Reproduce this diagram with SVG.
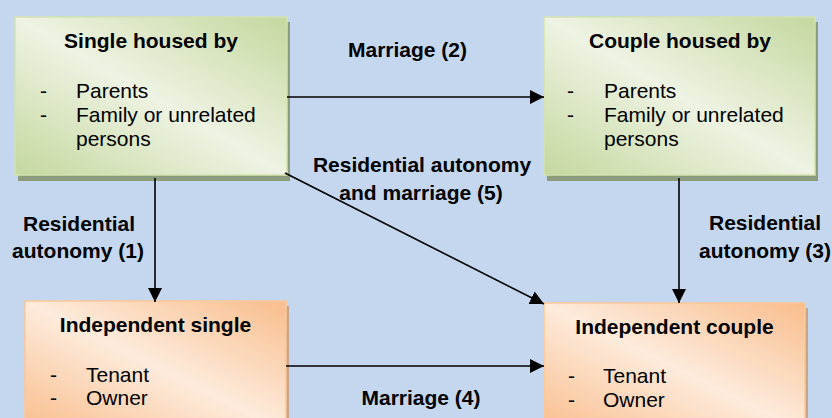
<svg xmlns="http://www.w3.org/2000/svg" width="832" height="418" viewBox="0 0 832 418">
<defs>
<linearGradient id="gGreen" x1="0" y1="1" x2="1" y2="0">
<stop offset="0" stop-color="#c4d89e"/>
<stop offset="0.5" stop-color="#eef3e3"/>
<stop offset="1" stop-color="#c4d89e"/>
</linearGradient>
<linearGradient id="gOrange" x1="0" y1="1" x2="1" y2="0">
<stop offset="0" stop-color="#f9bd8c"/>
<stop offset="0.5" stop-color="#fdebdc"/>
<stop offset="1" stop-color="#f9bd8c"/>
</linearGradient>
<marker id="arr" markerUnits="userSpaceOnUse" markerWidth="16" markerHeight="16" refX="14" refY="7" orient="auto">
<path d="M0,0 L14,7 L0,14 Z" fill="#000"/>
</marker>
</defs>
<style>
.bg{fill:#c5d7ef}
.gbox{fill:url(#gGreen);stroke:#d3e2b0;stroke-width:1.5}
.gsh{fill:#8c9c7c}
.obox{fill:url(#gOrange);stroke:#fbc896;stroke-width:1.5}
.osh{fill:#c8a48a}
text{font-family:"Liberation Sans",Arial,sans-serif;font-size:21px;fill:#000}
.t{font-weight:bold;text-anchor:middle}
.lbl{font-weight:bold;text-anchor:middle}
.c{fill:none;stroke:#000;stroke-width:1.6;marker-end:url(#arr)}
</style>
<rect class="bg" x="0" y="0" width="832" height="418"/>

<g id="single-housed">
<rect class="gsh" x="18" y="22" width="272" height="159"/>
<rect class="gbox" x="15" y="17" width="272" height="158"/>
<text class="t" x="151" y="48">Single housed by</text>
<text x="40" y="98">-</text>
<text x="76" y="98">Parents</text>
<text x="40" y="122">-</text>
<text x="76" y="122">Family or unrelated</text>
<text x="76" y="146">persons</text>
</g>

<g id="couple-housed">
<rect class="gsh" x="547" y="22" width="271" height="159"/>
<rect class="gbox" x="544" y="17" width="271" height="158"/>
<text class="t" x="680" y="48">Couple housed by</text>
<text x="567" y="98">-</text>
<text x="604" y="98">Parents</text>
<text x="567" y="122">-</text>
<text x="604" y="122">Family or unrelated</text>
<text x="604" y="146">persons</text>
</g>

<g id="independent-single">
<rect class="osh" x="28" y="306" width="261" height="130"/>
<rect class="obox" x="25" y="301" width="261" height="130"/>
<text class="t" x="155.5" y="332">Independent single</text>
<text x="50" y="382">-</text>
<text x="86" y="382">Tenant</text>
<text x="50" y="405">-</text>
<text x="86" y="405">Owner</text>
</g>

<g id="independent-couple">
<rect class="osh" x="547" y="308" width="261" height="130"/>
<rect class="obox" x="544" y="303" width="261" height="130"/>
<text class="t" x="674.5" y="334">Independent couple</text>
<text x="568" y="383">-</text>
<text x="603" y="383">Tenant</text>
<text x="568" y="407">-</text>
<text x="603" y="407">Owner</text>
</g>

<g id="connectors">
<line class="c" x1="155" y1="178" x2="155" y2="302"/>
<line class="c" x1="287" y1="97" x2="544" y2="97"/>
<line class="c" x1="679" y1="178" x2="679" y2="303"/>
<line class="c" x1="286" y1="366" x2="544" y2="366"/>
<line class="c" x1="285" y1="173" x2="544" y2="304"/>
<text class="lbl" x="407.5" y="57">Marriage (2)</text>
<text class="lbl" x="421" y="405">Marriage (4)</text>
<text class="lbl" x="79" y="231">Residential</text>
<text class="lbl" x="78" y="258">autonomy (1)</text>
<text class="lbl" x="765" y="230">Residential</text>
<text class="lbl" x="765" y="258">autonomy (3)</text>
<text class="lbl" x="422" y="172">Residential autonomy</text>
<text class="lbl" x="421" y="200">and marriage (5)</text>
</g>
</svg>
